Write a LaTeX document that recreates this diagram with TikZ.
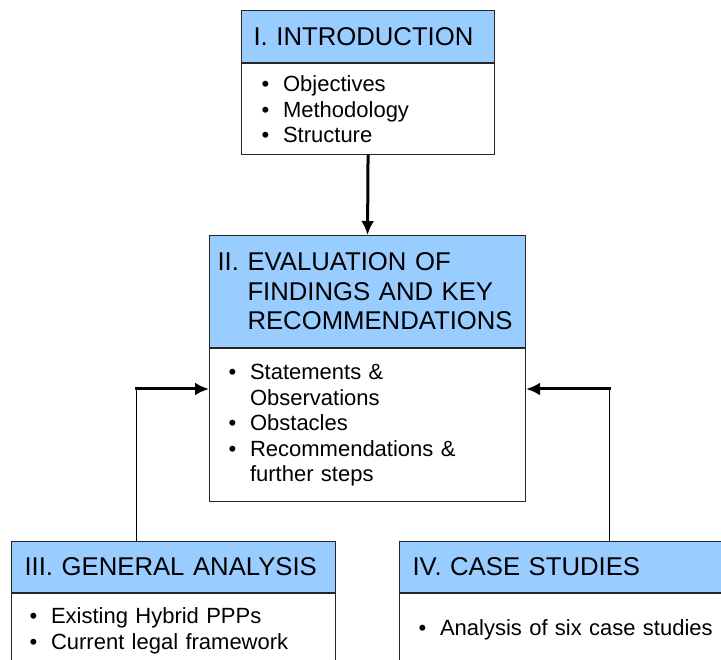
\documentclass[tikz,border=0pt]{standalone}
\usepackage{fontspec}
\setmainfont{Liberation Sans}
\usetikzlibrary{
  calc,
  arrows, arrows.meta,
}
\definecolor{hdrblue}{RGB}{153,204,255}
\newcommand{\bul}{\makebox[21.5pt][l]{\textbullet}}
\newcommand{\ind}{\hspace*{21.5pt}}

\begin{document}
\begin{tikzpicture}[
    x=1pt, y=-1pt,
    box/.style={draw=black!85, line width=1.1pt, anchor=north west, align=left},
    hdr/.style={box, fill=hdrblue, font=\fontsize{25.7}{29.5}\selectfont},
    bdy/.style={box, fill=white, font=\fontsize{22}{25.5}\selectfont},
    arr/.style={line width=3pt, black, -{Latex[length=14pt,width=13pt]}},
    lin/.style={line width=1pt, black},
  ]
  \clip (0,0) rectangle (721,660);

  % I
  \node[hdr, inner xsep=12pt, text width=229pt, minimum height=52pt] (hI) at (241,10)
  {I. INTRODUCTION};
  \node[bdy, inner xsep=20pt, text width=213pt, minimum height=91pt] (bI) at (hI.south west)
  {\bul Objectives\\ \bul Methodology\\ \bul Structure};

  % II
  \node[hdr, inner xsep=8pt, text width=300pt, minimum height=112pt] (hII) at (209,235)
  {II. EVALUATION OF\\ \hphantom{II. }FINDINGS AND KEY\\ \hphantom{II. }RECOMMENDATIONS};
  \node[bdy, inner xsep=19pt, text width=278pt, minimum height=153pt] (bII) at (hII.south west)
  {\bul Statements \&\\ \ind Observations\\ \bul Obstacles\\ \bul Recommendations \&\\ \ind further steps};

  % III
  \node[hdr, inner xsep=13pt, text width=298pt, minimum height=51pt] (hIII) at (11,541)
  {III. GENERAL ANALYSIS};
  \node[bdy, inner xsep=18pt, text width=288pt, minimum height=74pt] (bIII) at (hIII.south west)
  {\bul Existing Hybrid PPPs\\ \bul Current legal framework};

  % IV
  \node[hdr, inner xsep=13pt, text width=314pt, minimum height=51pt] (hIV) at (399,541)
  {IV. CASE STUDIES};
  \node[bdy, inner xsep=19pt, text width=302pt, minimum height=72pt] (bIV) at (hIV.south west)
  {\bul Analysis of six case studies};

  % connectors
  \coordinate (c3) at (136.5,389);
  \coordinate (c4) at (609,389);
  \draw[arr] (bI.south) -- (hII.north);
  \draw[lin] (hIII.north -| c3) -- (c3);
  \draw[arr] ([xshift=-1.5pt]c3) -- (bII.west |- c3);
  \draw[lin] (hIV.north -| c4) -- (c4);
  \draw[arr] ([xshift=1.5pt]c4) -- (bII.east |- c4);
\end{tikzpicture}
\end{document}
